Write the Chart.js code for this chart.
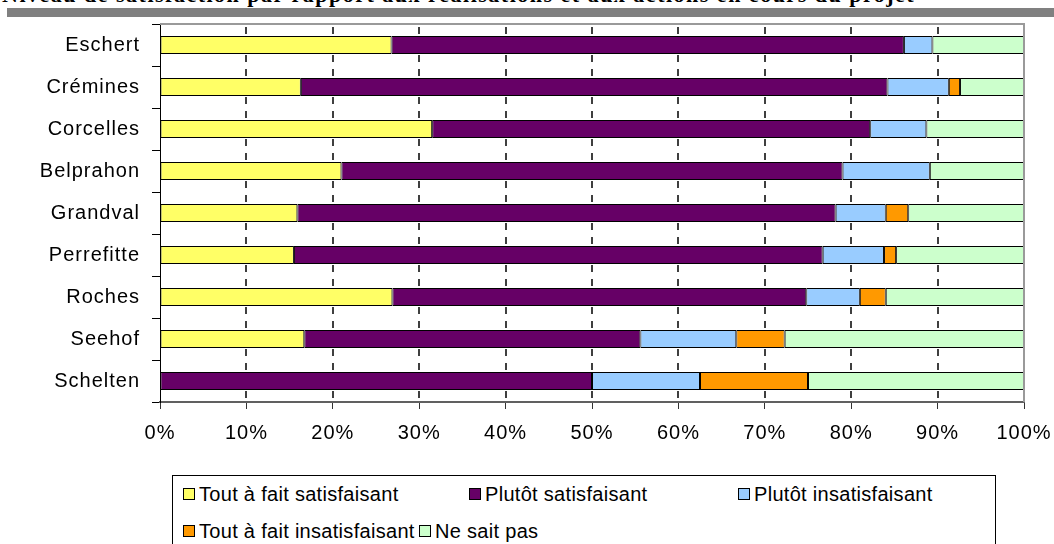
<!DOCTYPE html>
<html>
<head>
<meta charset="utf-8">
<script src="https://cdn.jsdelivr.net/npm/chart.js@4"></script>
<style>
  body { margin: 0; width: 1054px; height: 544px; overflow: hidden; background: #fff; position: relative; }
  #title { position: absolute; left: 2px; top: -18px; white-space: nowrap; font: bold 22px "Liberation Serif", serif; letter-spacing: 1.5px; color: #000; }
  #band { position: absolute; left: 7px; top: 8px; width: 1047px; height: 9px; background: #808080; }
  #wrap { position: absolute; left: 0; top: 0; width: 1054px; height: 470px; }
  #legend { position: absolute; left: 172px; top: 475px; width: 824px; height: 90px; border: 1px solid #000; box-sizing: border-box; font: 20px "Liberation Sans", Arial, sans-serif; letter-spacing: 0.3px; }
  .item { position: absolute; white-space: nowrap; line-height: 20px; }
  .box { display: inline-block; width: 10px; height: 10px; border: 1px solid #000; margin-right: 4px; vertical-align: 1px; }
</style>
</head>
<body>
<div id="title">Niveau de satisfaction par rapport aux réalisations et aux actions en cours du projet</div>
<div id="band"></div>
<div id="wrap"><canvas id="chart1"></canvas></div>
<div id="legend"></div>
<script>
// villages (top to bottom)
const villages = ['Eschert', 'Crémines', 'Corcelles', 'Belprahon', 'Grandval', 'Perrefitte', 'Roches', 'Seehof', 'Schelten']

// % of answers per village
const toutSatisfaisant = [26.8, 16.3, 31.5, 21.0, 15.9, 15.5, 26.9, 16.7, 0]
const plutotSatisfaisant = [59.3, 67.9, 50.7, 58.0, 62.3, 61.2, 47.9, 38.9, 50]
const plutotInsatisfaisant = [3.3, 7.1, 6.5, 10.1, 5.8, 7.1, 6.2, 11.1, 12.5]
const toutInsatisfaisant = [0, 1.3, 0, 0, 2.6, 1.4, 3.0, 5.6, 12.5]
const neSaitPas = [10.6, 7.4, 11.3, 10.9, 13.4, 14.8, 16.0, 27.7, 25]

const seriesNames = ['Tout à fait satisfaisant', 'Plutôt satisfaisant', 'Plutôt insatisfaisant', 'Tout à fait insatisfaisant', 'Ne sait pas']
const seriesColors = ['#FFFF66', '#660066', '#99CCFF', '#FF9900', '#CCFFCC']
const xTicks = [0, 10, 20, 30, 40, 50, 60, 70, 80, 90, 100]

const font = { family: '"Liberation Sans", Arial, sans-serif', size: 20 }

const data = {
    labels: villages,
    datasets: [toutSatisfaisant, plutotSatisfaisant, plutotInsatisfaisant, toutInsatisfaisant, neSaitPas].map((vals, i) => ({
        label: seriesNames[i],
        data: vals,
        backgroundColor: seriesColors[i],
        borderColor: '#000',
        borderWidth: 1,
        borderSkipped: false,
        barPercentage: 0.43,
        categoryPercentage: 1
    }))
}

// slightly wider text, like the spreadsheet rendering
const spacing = {
    id: 'spacing',
    beforeDraw(chart) { chart.ctx.letterSpacing = '1px' }
}

// dashed vertical gridlines behind the bars
const dashedGrid = {
    id: 'dashedGrid',
    beforeDatasetsDraw(chart) {
        const { ctx, chartArea: a, scales: { x } } = chart
        ctx.save()
        ctx.strokeStyle = '#000'
        ctx.lineWidth = 1.5
        ctx.setLineDash([7, 7])
        xTicks.forEach(v => {
            if (v === 0 || v === 100) return
            const px = Math.round(x.getPixelForValue(v))
            ctx.beginPath()
            ctx.moveTo(px, a.top + 3)
            ctx.lineTo(px, a.bottom)
            ctx.stroke()
        })
        ctx.restore()
    }
}

// grey frame on top and right of the plot area
const frame = {
    id: 'frame',
    afterDraw(chart) {
        const { ctx, chartArea: a } = chart
        ctx.save()
        ctx.setLineDash([])
        ctx.strokeStyle = '#9a9a9a'
        ctx.lineWidth = 2
        ctx.beginPath()
        ctx.moveTo(a.left, a.top)
        ctx.lineTo(a.right, a.top)
        ctx.lineTo(a.right, a.bottom)
        ctx.stroke()
        ctx.restore()
    }
}

let options = {
    indexAxis: 'y',
    responsive: true,
    maintainAspectRatio: false,
    animation: false,
    layout: { padding: { top: 22, right: 30, left: 0, bottom: 0 } },
    plugins: {
        legend: { display: false },
        tooltip: { enabled: false }
    },
    scales: {
        x: {
            stacked: true,
            min: 0,
            max: 100,
            afterBuildTicks: scale => { scale.ticks = xTicks.map(v => ({ value: v })) },
            afterFit: scale => {
                scale.height = 68
                scale.paddingLeft = 0
                scale.paddingRight = 0
            },
            ticks: {
                color: '#000',
                font,
                padding: 12,
                maxRotation: 0,
                callback: v => v + '%'
            },
            grid: {
                drawOnChartArea: false,
                drawTicks: true,
                tickLength: 7,
                tickColor: '#333'
            },
            border: { display: true, color: '#606060', width: 2 }
        },
        y: {
            stacked: true,
            afterFit: scale => { scale.width = 160 },
            ticks: {
                color: '#000',
                font,
                padding: 12
            },
            grid: {
                drawOnChartArea: false,
                drawTicks: true,
                tickLength: 8,
                tickColor: '#000',
                offset: true
            },
            border: { display: true, color: '#000', width: 1 }
        }
    }
}

new Chart('chart1', { type: 'bar', data, options, plugins: [spacing, dashedGrid, frame] })

// legend laid out like the spreadsheet one
const legendPos = [[10, 8], [296, 8], [565, 8], [10, 45], [246, 45]]
const legend = document.getElementById('legend')
seriesNames.forEach((name, i) => {
    const it = document.createElement('div')
    it.className = 'item'
    it.style.left = legendPos[i][0] + 'px'
    it.style.top = legendPos[i][1] + 'px'
    it.innerHTML = '<span class="box" style="background:' + seriesColors[i] + '"></span>' + name
    legend.appendChild(it)
})
</script>
</body>
</html>
